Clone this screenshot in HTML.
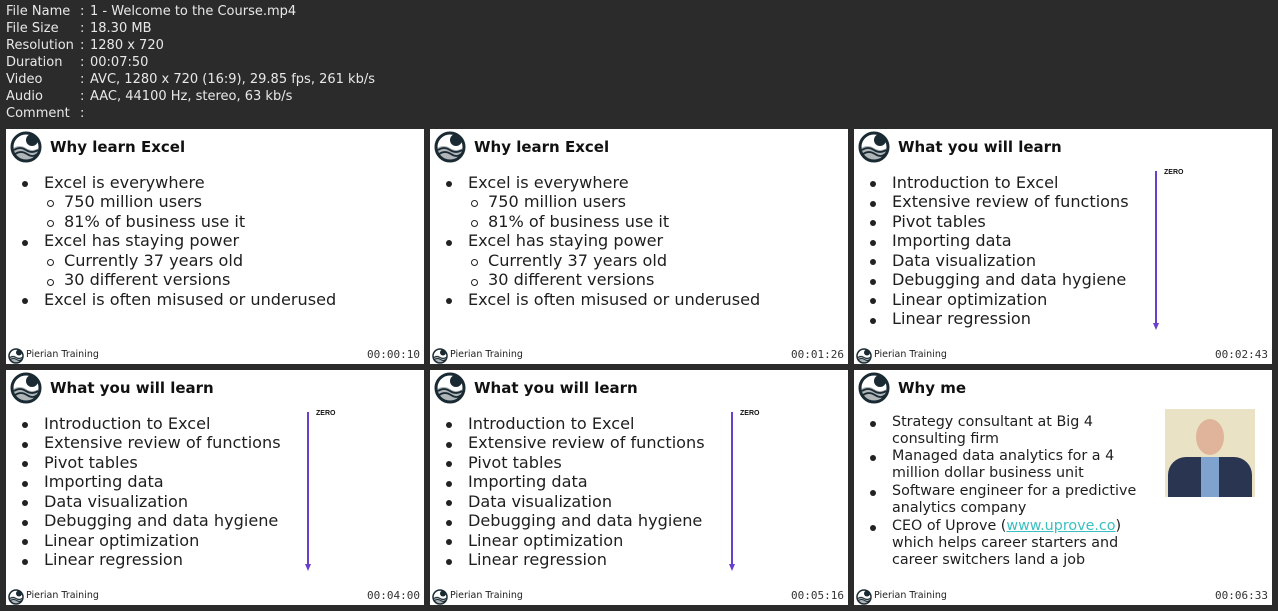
<!DOCTYPE html>
<html><head><meta charset="utf-8"><style>
*{margin:0;padding:0;box-sizing:border-box}
body{width:1278px;height:611px;background:#2b2b2b;position:relative;overflow:hidden;font-family:"Liberation Sans",sans-serif}
.hdr{position:absolute;left:6px;top:3px;color:#e8e8e8;font-size:13px;line-height:17px;font-family:"DejaVu Sans","Liberation Sans",sans-serif}
.hdr span{display:inline-block;width:74px}
.hdr b{font-weight:normal;display:inline-block;width:10px}
.p{position:absolute;width:418px;height:235px;background:#fff;overflow:hidden}
.t{position:absolute;left:44px;top:9px;font-size:15px;font-weight:bold;color:#111;font-family:"DejaVu Sans",sans-serif}
.logo{position:absolute;left:4px;top:2px}
.l{position:absolute;font-size:16.1px;color:#1e1e1e;white-space:nowrap;line-height:19.5px;font-family:"DejaVu Sans",sans-serif}
.b{position:absolute;left:16px;width:6px;height:6px;border-radius:50%;background:#222}
.s{position:absolute;left:41px;width:7px;height:7px;border-radius:50%;border:1.3px solid #222}
.ft{position:absolute;left:20px;top:220px;font-size:9.5px;color:#222;font-family:"DejaVu Sans",sans-serif}
.fl{position:absolute;left:2px;top:219px}
.ts{position:absolute;right:4px;top:219px;font-size:11px;color:#333;font-family:"DejaVu Sans Mono",monospace}
.z{position:absolute;font-size:7px;font-weight:bold;color:#111}
.ar{position:absolute;width:1.5px;background:#6a3fd0}
.ah{position:absolute;width:0;height:0;border-left:3.5px solid transparent;border-right:3.5px solid transparent;border-top:7px solid #6a3fd0}
.w{position:absolute;left:38px;font-size:14.3px;color:#1e1e1e;line-height:17px;white-space:nowrap;font-family:"DejaVu Sans",sans-serif}
</style></head><body>
<div class="hdr">
<div><span>File Name</span><b>:</b>1 - Welcome to the Course.mp4</div>
<div><span>File Size</span><b>:</b>18.30 MB</div>
<div><span>Resolution</span><b>:</b>1280 x 720</div>
<div><span>Duration</span><b>:</b>00:07:50</div>
<div><span>Video</span><b>:</b>AVC, 1280 x 720 (16:9), 29.85 fps, 261 kb/s</div>
<div><span>Audio</span><b>:</b>AAC, 44100 Hz, stereo, 63 kb/s</div>
<div><span>Comment</span><b>:</b></div>
</div>

<svg width="0" height="0" style="position:absolute"><defs>
<g id="lg"><circle cx="16" cy="16" r="14" fill="none" stroke="#1a2a33" stroke-width="3"/><circle cx="22" cy="9" r="6" fill="#1a2a33"/><path d="M4 19 Q10 15 16 19 T28 19 M5 23 Q11 19 17 23 T27 23" fill="none" stroke="#1a2a33" stroke-width="1.8"/><path d="M3 17 Q10 13 16 17 T29 17 L28 22 Q22 28 16 29 Q8 28 4 22Z" fill="#1a2a33" opacity=".35"/></g>
</defs></svg>

<div class="p" style="left:6px;top:129px">
<svg class="logo" width="34" height="34"><use href="#lg"/></svg>
<div class="t">Why learn Excel</div>
<div class="b" style="top:52px"></div><div class="l" style="left:38px;top:44px">Excel is everywhere</div>
<div class="s" style="top:71px"></div><div class="l" style="left:58px;top:63px">750 million users</div>
<div class="s" style="top:91px"></div><div class="l" style="left:58px;top:83px">81% of business use it</div>
<div class="b" style="top:111px"></div><div class="l" style="left:38px;top:102px">Excel has staying power</div>
<div class="s" style="top:130px"></div><div class="l" style="left:58px;top:122px">Currently 37 years old</div>
<div class="s" style="top:150px"></div><div class="l" style="left:58px;top:141px">30 different versions</div>
<div class="b" style="top:169px"></div><div class="l" style="left:38px;top:161px">Excel is often misused or underused</div>
<svg class="fl" width="16" height="16"><g transform="scale(.5)"><use href="#lg"/></g></svg><div class="ft">Pierian Training</div><div class="ts">00:00:10</div>
</div>

<div class="p" style="left:430px;top:129px">
<svg class="logo" width="34" height="34"><use href="#lg"/></svg>
<div class="t">Why learn Excel</div>
<div class="b" style="top:52px"></div><div class="l" style="left:38px;top:44px">Excel is everywhere</div>
<div class="s" style="top:71px"></div><div class="l" style="left:58px;top:63px">750 million users</div>
<div class="s" style="top:91px"></div><div class="l" style="left:58px;top:83px">81% of business use it</div>
<div class="b" style="top:111px"></div><div class="l" style="left:38px;top:102px">Excel has staying power</div>
<div class="s" style="top:130px"></div><div class="l" style="left:58px;top:122px">Currently 37 years old</div>
<div class="s" style="top:150px"></div><div class="l" style="left:58px;top:141px">30 different versions</div>
<div class="b" style="top:169px"></div><div class="l" style="left:38px;top:161px">Excel is often misused or underused</div>
<svg class="fl" width="16" height="16"><g transform="scale(.5)"><use href="#lg"/></g></svg><div class="ft">Pierian Training</div><div class="ts">00:01:26</div>
</div>

<div class="p" style="left:854px;top:129px">
<svg class="logo" width="34" height="34"><use href="#lg"/></svg>
<div class="t">What you will learn</div>
<div class="b" style="top:52px"></div><div class="l" style="left:38px;top:44px">Introduction to Excel</div>
<div class="b" style="top:72px"></div><div class="l" style="left:38px;top:63px">Extensive review of functions</div>
<div class="b" style="top:91px"></div><div class="l" style="left:38px;top:83px">Pivot tables</div>
<div class="b" style="top:111px"></div><div class="l" style="left:38px;top:102px">Importing data</div>
<div class="b" style="top:130px"></div><div class="l" style="left:38px;top:122px">Data visualization</div>
<div class="b" style="top:150px"></div><div class="l" style="left:38px;top:141px">Debugging and data hygiene</div>
<div class="b" style="top:169px"></div><div class="l" style="left:38px;top:161px">Linear optimization</div>
<div class="b" style="top:189px"></div><div class="l" style="left:38px;top:180px">Linear regression</div>
<div class="z" style="left:310px;top:40px">ZERO</div><div class="ar" style="left:301px;top:42px;height:152px"></div><div class="ah" style="left:298.5px;top:194px"></div>
<svg class="fl" width="16" height="16"><g transform="scale(.5)"><use href="#lg"/></g></svg><div class="ft">Pierian Training</div><div class="ts">00:02:43</div>
</div>

<div class="p" style="left:6px;top:370px">
<svg class="logo" width="34" height="34"><use href="#lg"/></svg>
<div class="t">What you will learn</div>
<div class="b" style="top:52px"></div><div class="l" style="left:38px;top:44px">Introduction to Excel</div>
<div class="b" style="top:72px"></div><div class="l" style="left:38px;top:63px">Extensive review of functions</div>
<div class="b" style="top:91px"></div><div class="l" style="left:38px;top:83px">Pivot tables</div>
<div class="b" style="top:111px"></div><div class="l" style="left:38px;top:102px">Importing data</div>
<div class="b" style="top:130px"></div><div class="l" style="left:38px;top:122px">Data visualization</div>
<div class="b" style="top:150px"></div><div class="l" style="left:38px;top:141px">Debugging and data hygiene</div>
<div class="b" style="top:169px"></div><div class="l" style="left:38px;top:161px">Linear optimization</div>
<div class="b" style="top:189px"></div><div class="l" style="left:38px;top:180px">Linear regression</div>
<div class="z" style="left:310px;top:40px">ZERO</div><div class="ar" style="left:301px;top:42px;height:152px"></div><div class="ah" style="left:298.5px;top:194px"></div>
<svg class="fl" width="16" height="16"><g transform="scale(.5)"><use href="#lg"/></g></svg><div class="ft">Pierian Training</div><div class="ts">00:04:00</div>
</div>

<div class="p" style="left:430px;top:370px">
<svg class="logo" width="34" height="34"><use href="#lg"/></svg>
<div class="t">What you will learn</div>
<div class="b" style="top:52px"></div><div class="l" style="left:38px;top:44px">Introduction to Excel</div>
<div class="b" style="top:72px"></div><div class="l" style="left:38px;top:63px">Extensive review of functions</div>
<div class="b" style="top:91px"></div><div class="l" style="left:38px;top:83px">Pivot tables</div>
<div class="b" style="top:111px"></div><div class="l" style="left:38px;top:102px">Importing data</div>
<div class="b" style="top:130px"></div><div class="l" style="left:38px;top:122px">Data visualization</div>
<div class="b" style="top:150px"></div><div class="l" style="left:38px;top:141px">Debugging and data hygiene</div>
<div class="b" style="top:169px"></div><div class="l" style="left:38px;top:161px">Linear optimization</div>
<div class="b" style="top:189px"></div><div class="l" style="left:38px;top:180px">Linear regression</div>
<div class="z" style="left:310px;top:40px">ZERO</div><div class="ar" style="left:301px;top:42px;height:152px"></div><div class="ah" style="left:298.5px;top:194px"></div>
<svg class="fl" width="16" height="16"><g transform="scale(.5)"><use href="#lg"/></g></svg><div class="ft">Pierian Training</div><div class="ts">00:05:16</div>
</div>

<div class="p" style="left:854px;top:370px">
<svg class="logo" width="34" height="34"><use href="#lg"/></svg>
<div class="t">Why me</div>
<div class="b" style="top:51px"></div><div class="w" style="top:44px">Strategy consultant at Big 4<br>consulting firm</div>
<div class="b" style="top:85px"></div><div class="w" style="top:78px">Managed data analytics for a 4<br>million dollar business unit</div>
<div class="b" style="top:120px"></div><div class="w" style="top:113px">Software engineer for a predictive<br>analytics company</div>
<div class="b" style="top:155px"></div><div class="w" style="top:148px">CEO of Uprove (<span style="color:#3bbfc0;text-decoration:underline">www.uprove.co</span>)<br>which helps career starters and<br>career switchers land a job</div>
<div style="position:absolute;left:311px;top:39px;width:90px;height:88px;background:#e9e2c4">
<div style="position:absolute;left:31px;top:10px;width:28px;height:36px;border-radius:50%;background:#e0b49a"></div>
<div style="position:absolute;left:3px;top:48px;width:84px;height:40px;border-radius:18px 18px 0 0;background:#2a3552"></div>
<div style="position:absolute;left:36px;top:48px;width:18px;height:40px;background:#7fa2cf"></div>
</div>
<svg class="fl" width="16" height="16"><g transform="scale(.5)"><use href="#lg"/></g></svg><div class="ft">Pierian Training</div><div class="ts">00:06:33</div>
</div>
</body></html>
